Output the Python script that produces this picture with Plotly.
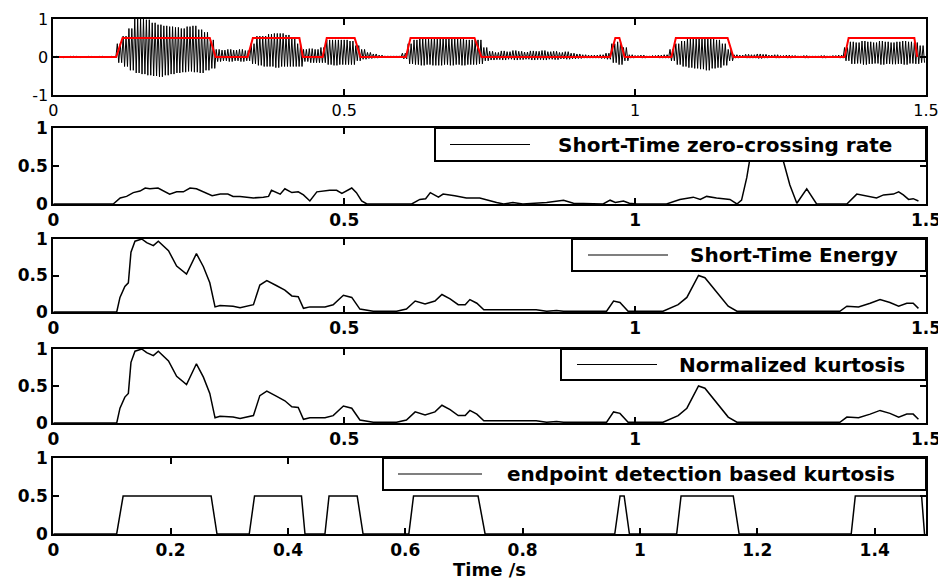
import plotly.graph_objects as go

# ---------------- data ----------------
# speech waveform envelope, one pair per 10 ms frame
frame_t = [round(i * 0.01, 2) for i in range(150)]
wave_upper = [0.02, 0.02, 0.01, 0.02, 0.02, 0.01, 0.02, 0.02, 0.02, 0.01, 0.02,
              0.35, 0.55, 0.75, 1.0, 1.0, 0.98, 0.9, 0.85, 0.82, 0.8, 0.78, 0.75, 0.8, 0.82, 0.72, 0.65, 0.45, 0.2,
              0.18, 0.2, 0.18, 0.2, 0.17,
              0.35, 0.55, 0.55, 0.6, 0.62, 0.62, 0.58, 0.5, 0.35,
              0.2, 0.22, 0.2, 0.25,
              0.45, 0.45, 0.45, 0.45, 0.42,
              0.3, 0.2, 0.12, 0.08, 0.05, 0.03, 0.03, 0.03,
              0.1, 0.35, 0.45, 0.5, 0.48, 0.52, 0.5, 0.52, 0.5, 0.48, 0.5, 0.45, 0.45, 0.45, 0.25,
              0.15, 0.12, 0.16, 0.14, 0.17, 0.15, 0.13, 0.16, 0.15, 0.17, 0.14, 0.15, 0.12, 0.14, 0.1, 0.08, 0.06, 0.05, 0.05, 0.06, 0.1,
              0.35, 0.4, 0.25,
              0.06, 0.04, 0.05, 0.03, 0.04, 0.05, 0.06,
              0.2, 0.35, 0.42, 0.48, 0.5, 0.52, 0.5, 0.48, 0.45, 0.35, 0.2,
              0.06, 0.05, 0.07, 0.06, 0.08, 0.07, 0.05, 0.06, 0.04, 0.05, 0.04, 0.03, 0.04, 0.03, 0.03, 0.04, 0.03, 0.04, 0.05,
              0.25, 0.4, 0.38, 0.42, 0.4, 0.38, 0.42, 0.4, 0.38, 0.4, 0.42, 0.4, 0.38, 0.3]
wave_lower = [-0.01, -0.02, -0.01, -0.01, -0.02, -0.01, -0.01, -0.02, -0.01, -0.01, -0.02,
              -0.15, -0.25, -0.35, -0.42, -0.45, -0.48, -0.5, -0.52, -0.48, -0.45, -0.42, -0.4, -0.38, -0.4, -0.42, -0.35, -0.3, -0.12,
              -0.1, -0.12, -0.1, -0.12, -0.1,
              -0.18, -0.22, -0.25, -0.25, -0.28, -0.25, -0.25, -0.25, -0.25,
              -0.12, -0.15, -0.15, -0.15,
              -0.2, -0.22, -0.2, -0.2, -0.2,
              -0.1, -0.06, -0.04, -0.03, -0.02, -0.01, -0.01, -0.01,
              -0.05, -0.18, -0.2, -0.22, -0.2, -0.22, -0.22, -0.2, -0.22, -0.2, -0.22, -0.2, -0.2, -0.18, -0.1,
              -0.08, -0.07, -0.08, -0.06, -0.08, -0.07, -0.06, -0.08, -0.07, -0.08, -0.06, -0.07, -0.05, -0.06, -0.05, -0.04, -0.03, -0.03, -0.03, -0.04, -0.06,
              -0.15, -0.2, -0.1,
              -0.03, -0.02, -0.03, -0.02, -0.02, -0.03, -0.03,
              -0.1, -0.2, -0.25, -0.28, -0.3, -0.32, -0.35, -0.3, -0.28, -0.22, -0.1,
              -0.03, -0.02, -0.03, -0.03, -0.04, -0.03, -0.02, -0.03, -0.02, -0.03, -0.02, -0.02, -0.03, -0.02, -0.02, -0.03, -0.02, -0.02, -0.03,
              -0.1, -0.18, -0.17, -0.2, -0.18, -0.17, -0.2, -0.18, -0.19, -0.18, -0.2, -0.17, -0.18, -0.15]

# short-time zero-crossing rate
zcr_t = [0, 0.103, 0.115, 0.126, 0.1375, 0.149, 0.158, 0.166, 0.18, 0.2, 0.212, 0.2235, 0.235, 0.246, 0.273,
         0.287, 0.3, 0.309, 0.321, 0.344, 0.361, 0.37, 0.375, 0.39, 0.398, 0.41, 0.421, 0.43, 0.441, 0.453,
         0.475, 0.487, 0.496, 0.513, 0.521, 0.53, 0.539, 0.616, 0.63, 0.64, 0.648, 0.662, 0.67, 0.69, 0.71,
         0.733, 0.762, 0.774, 0.79, 0.807, 0.848, 0.877, 0.894, 0.945, 0.957, 0.966, 0.98, 0.99, 1.003, 1.054,
         1.077, 1.1, 1.112, 1.123, 1.14, 1.163, 1.175, 1.183, 1.192, 1.197, 1.21, 1.24, 1.255, 1.266, 1.278,
         1.295, 1.312, 1.364, 1.381, 1.398, 1.415, 1.427, 1.444, 1.453, 1.461, 1.47, 1.478, 1.487]
zcr_v = [0, 0, 0.08, 0.1, 0.15, 0.17, 0.21, 0.2, 0.21, 0.13, 0.16, 0.16, 0.21, 0.2, 0.11,
         0.13, 0.13, 0.1, 0.1, 0.08, 0.09, 0.1, 0.18, 0.13, 0.2, 0.15, 0.16, 0.12, 0.04, 0.16,
         0.18, 0.18, 0.14, 0.21, 0.15, 0.04, 0, 0, 0.06, 0.07, 0.15, 0.09, 0.13, 0.11, 0.08,
         0.08, 0.02, 0, 0.02, 0, 0.02, 0.05, 0.01, 0, 0.05, 0.02, 0.04, 0.01, 0, 0,
         0.06, 0.09, 0.06, 0.1, 0.08, 0.06, 0, 0.05, 0.35, 0.58, 0.95, 0.95, 0.56, 0.25, 0.01,
         0.2, 0, 0, 0.13, 0.1, 0.08, 0.12, 0.13, 0.16, 0.12, 0.06, 0.07, 0.04]

# short-time energy
energy_t = [0, 0.109, 0.1146, 0.123, 0.129, 0.1335, 0.1404, 0.152, 0.1605, 0.172, 0.1805, 0.198, 0.212, 0.229, 0.246,
            0.258, 0.269, 0.278, 0.2865, 0.309, 0.321, 0.344, 0.355, 0.367, 0.384, 0.398, 0.41, 0.421, 0.43, 0.441,
            0.467, 0.481, 0.4986, 0.513, 0.527, 0.55, 0.59, 0.607, 0.622, 0.639, 0.656, 0.668, 0.682, 0.696, 0.708,
            0.716, 0.728, 0.74, 0.83, 0.848, 0.865, 0.877, 0.951, 0.963, 0.974, 0.988, 1.048, 1.06, 1.074, 1.089,
            1.1, 1.109, 1.12, 1.14, 1.16, 1.175, 1.352, 1.364, 1.384, 1.404, 1.421, 1.438, 1.453, 1.467, 1.478, 1.487]
energy_v = [0, 0, 0.2, 0.35, 0.4, 0.82, 0.97, 1.0, 0.95, 0.91, 0.97, 0.84, 0.63, 0.52, 0.8,
            0.62, 0.4, 0.07, 0.09, 0.08, 0.06, 0.1, 0.37, 0.43, 0.36, 0.3, 0.22, 0.21, 0.05, 0.07,
            0.07, 0.1, 0.23, 0.2, 0.04, 0.01, 0.01, 0.04, 0.15, 0.11, 0.15, 0.24, 0.18, 0.1, 0.1,
            0.17, 0.12, 0.03, 0.03, 0.01, 0.02, 0.01, 0.01, 0.15, 0.13, 0.01, 0.01, 0.05, 0.1, 0.2,
            0.37, 0.5, 0.47, 0.28, 0.08, 0.01, 0.01, 0.08, 0.07, 0.12, 0.17, 0.13, 0.08, 0.12, 0.12, 0.05]

# normalized kurtosis
kurt_t = list(energy_t)
kurt_v = [0, 0, 0.2, 0.35, 0.4, 0.82, 0.97, 1.0, 0.95, 0.91, 0.97, 0.84, 0.63, 0.52, 0.8,
          0.62, 0.4, 0.07, 0.09, 0.08, 0.06, 0.1, 0.37, 0.43, 0.36, 0.3, 0.22, 0.21, 0.05, 0.07,
          0.07, 0.1, 0.23, 0.2, 0.04, 0.01, 0.01, 0.04, 0.15, 0.11, 0.15, 0.24, 0.18, 0.1, 0.1,
          0.17, 0.12, 0.03, 0.03, 0.01, 0.02, 0.01, 0.01, 0.15, 0.13, 0.01, 0.01, 0.05, 0.1, 0.2,
          0.37, 0.5, 0.47, 0.28, 0.08, 0.01, 0.01, 0.08, 0.07, 0.12, 0.17, 0.13, 0.08, 0.12, 0.12, 0.05]

# endpoint detection based on kurtosis
endpoint_t = [0, 0.108, 0.119, 0.269, 0.279, 0.334, 0.343, 0.423, 0.429, 0.463, 0.47, 0.518, 0.528,
              0.606, 0.614, 0.724, 0.736, 0.957, 0.966, 0.973, 0.982, 1.0625, 1.07, 1.159, 1.169,
              1.36, 1.367, 1.48, 1.485]
endpoint_v = [0, 0, 0.5, 0.5, 0, 0, 0.5, 0.5, 0, 0, 0.5, 0.5, 0,
              0, 0.5, 0.5, 0, 0, 0.5, 0.5, 0, 0, 0.5, 0.5, 0,
              0, 0.5, 0.5, 0]

legend_names = ["Short-Time zero-crossing rate", "Short-Time Energy",
                "Normalized kurtosis", "endpoint detection based kurtosis"]
x_title = "Time /s"
x_ticks_top = [0, 0.5, 1, 1.5]
x_ticks_bottom = [0, 0.2, 0.4, 0.6, 0.8, 1, 1.2, 1.4]
y_ticks_top = [-1, 0, 1]
y_ticks_feat = [0, 0.5, 1]

# ---------------- figure ----------------
# the page body adds an 8 px margin, so the figure is 8 px smaller and every
# reference pixel position is shifted by that offset
OFF = 8
W, H = 946 - OFF, 580 - OFF


def px(x):
    return (x - OFF) / W


def py(y):
    return 1 - (y - OFF) / H


XL, XR = 53.3, 926.0
xdom = [px(XL), px(XR)]
panel_px = [(19, 95), (128, 204), (239, 312), (349, 423), (458, 534)]
ydoms = [[py(b), py(t)] for t, b in panel_px]

# zig-zag rendering of the waveform envelope (two swings per frame)
wx, wy = [], []
for t, u, l in zip(frame_t, wave_upper, wave_lower):
    wx += [t, t + 0.0025, t + 0.005, t + 0.0075]
    wy += [u, l, u, l]

fig = go.Figure()
fig.add_trace(go.Scatter(x=wx, y=wy, mode="lines", line=dict(color="black", width=1),
                         xaxis="x", yaxis="y", showlegend=False, hoverinfo="skip"))
fig.add_trace(go.Scatter(x=endpoint_t, y=endpoint_v, mode="lines", line=dict(color="#ff0000", width=2),
                         xaxis="x", yaxis="y", showlegend=False))

series = [(zcr_t, zcr_v), (energy_t, energy_v), (kurt_t, kurt_v), (endpoint_t, endpoint_v)]
for k, ((xs, ys), name) in enumerate(zip(series, legend_names)):
    fig.add_trace(go.Scatter(x=xs, y=ys, mode="lines", name=name,
                             line=dict(color="black", width=1.5),
                             xaxis="x%d" % (k + 2), yaxis="y%d" % (k + 2), showlegend=False))

bold = dict(family="DejaVu Sans", size=17, color="black", weight="bold")
normal = dict(family="DejaVu Sans", size=16, color="black")
axis_common = dict(showline=True, linecolor="black", linewidth=2, mirror="ticks",
                   ticks="inside", ticklen=6, tickwidth=1.5, tickcolor="black",
                   showgrid=False, zeroline=False, automargin=False)

layout = dict(width=W, height=H, margin=dict(l=0, r=0, t=0, b=0, autoexpand=False),
              paper_bgcolor="white", plot_bgcolor="white", showlegend=False)

for k in range(5):
    sfx = "" if k == 0 else str(k + 1)
    xr = [0, 1.4875] if k == 4 else [0, 1.5]
    xt = x_ticks_bottom if k == 4 else x_ticks_top
    yr = [-1, 1] if k == 0 else [0, 1]
    yt = y_ticks_top if k == 0 else y_ticks_feat
    f = normal if k == 0 else bold
    layout["xaxis" + sfx] = dict(axis_common, domain=xdom, range=xr, tickvals=xt,
                                 ticktext=[("%g" % v) for v in xt], tickfont=f,
                                 anchor="y" + sfx)
    layout["yaxis" + sfx] = dict(axis_common, domain=ydoms[k], range=yr, tickvals=yt,
                                 ticktext=[("%g" % v) for v in yt], tickfont=f,
                                 anchor="x" + sfx)

# legend boxes drawn in each panel's top-right corner (pixel geometry of the reference)
legend_box = [(435, 161, 450, 530, 725), (572, 271, 588, 668, 794),
              (561, 380, 577, 657, 792), (383, 490, 398, 482, 701)]
shapes, annotations = [], []
for k, (bx0, bbot, lx0, lx1, tx) in enumerate(legend_box):
    top = panel_px[k + 1][0]
    mid = (top + bbot) / 2
    shapes.append(dict(type="rect", xref="paper", yref="paper", layer="above",
                       x0=px(bx0), x1=px(XR), y0=py(bbot), y1=py(top),
                       fillcolor="white", line=dict(color="black", width=2)))
    shapes.append(dict(type="line", xref="paper", yref="paper", layer="above",
                       x0=px(lx0), x1=px(lx1), y0=py(mid), y1=py(mid),
                       line=dict(color="black", width=1.2)))
    annotations.append(dict(text=legend_names[k], xref="paper", yref="paper",
                            x=px(tx), y=py(mid), xanchor="center", yanchor="middle",
                            showarrow=False,
                            font=dict(family="DejaVu Sans", size=20, color="black", weight="bold")))

annotations.append(dict(text=x_title, xref="paper", yref="paper", x=px(490), y=py(569),
                        xanchor="center", yanchor="middle", showarrow=False,
                        font=dict(family="DejaVu Sans", size=18, color="black", weight="bold")))

layout["shapes"] = shapes
layout["annotations"] = annotations

fig.update_layout(**layout)
fig.write_html("out.html")
